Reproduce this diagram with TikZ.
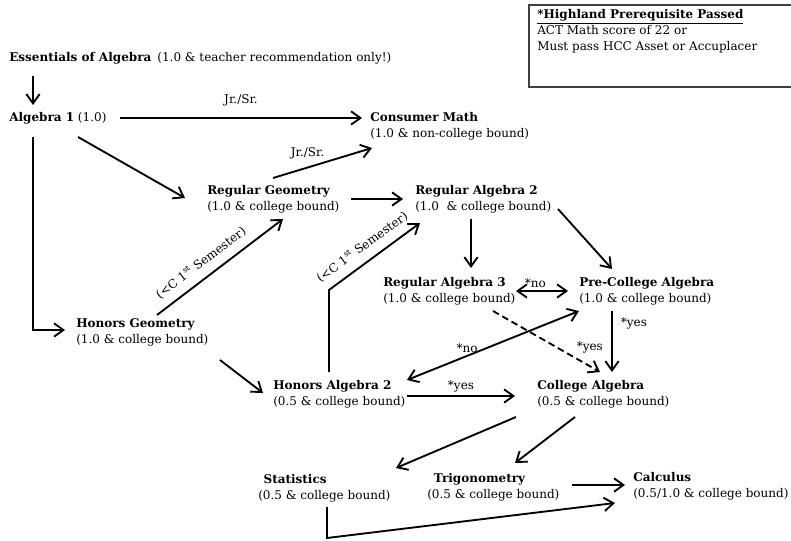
\documentclass[tikz,border=0pt]{standalone}
\usepackage{fontspec}
\setmainfont{DejaVu Serif}
\usetikzlibrary{arrows.meta,positioning}
\tikzset
{
    course/.style    = {anchor=west, align=left, inner sep=0pt, font=\fontsize{9}{12}\selectfont},
    edgelabel/.style = {font=\fontsize{9}{12}\selectfont, inner sep=2pt},
    link/.style      = {line width=1.4pt, -{Straight Barb[length=7pt,width=10pt]}},
    twolink/.style   = {line width=1.4pt, {Straight Barb[length=7pt,width=10pt]}-{Straight Barb[length=7pt,width=10pt]}},
    maybelink/.style = {link, dash pattern=on 5pt off 3pt}
}

\begin{document}
\begin{tikzpicture}[x=0.75pt, y=-0.75pt]
	\useasboundingbox (0,0) rectangle (791,541);
	% courses
	\node[course] (ess)  at (9,58)    {\textbf{Essentials of Algebra}\enspace(1.0 \& teacher recommendation only!)};
	\node[course] (alg1) at (9,118)   {\textbf{Algebra 1} (1.0)};
	\node[course] (cm)   at (370,126) {\textbf{Consumer Math}\\(1.0 \& non-college bound)};
	\node[course] (rg)   at (207,199) {\textbf{Regular Geometry}\\(1.0 \& college bound)};
	\node[course] (ra2)  at (415,199) {\textbf{Regular Algebra 2}\\(1.0~ \& college bound)};
	\node[course] (ra3)  at (383,291) {\textbf{Regular Algebra 3}\\(1.0 \& college bound)};
	\node[course] (pca)  at (579,291) {\textbf{Pre-College Algebra}\\(1.0 \& college bound)};
	\node[course] (hg)   at (76,332)  {\textbf{Honors Geometry}\\(1.0 \& college bound)};
	\node[course] (ha2)  at (273,394) {\textbf{Honors Algebra 2}\\(0.5 \& college bound)};
	\node[course] (ca)   at (537,394) {\textbf{College Algebra}\\(0.5 \& college bound)};
	\node[course] (stat) at (258,488) {\hspace*{4pt}\textbf{Statistics}\\(0.5 \& college bound)};
	\node[course] (trig) at (427,487) {\hspace*{5pt}\textbf{Trigonometry}\\(0.5 \& college bound)};
	\node[course] (calc) at (633,486) {\textbf{Calculus}\\(0.5/1.0 \& college bound)};

	% prerequisite note
	\node[course] (note) at (537,31) {\underline{\textbf{*Highland Prerequisite Passed}}\\ACT Math score of 22 or\\Must pass HCC Asset or Accuplacer};
	\draw[line width=0.8pt, black!75] ([shift={(-8,-26)}]note.west) rectangle ([shift={(262,56)}]note.west);

	% paths
	\draw[link] ([shift={(24,18)}]ess.west) -- ([shift={(24,-13)}]alg1.west);
	\draw[link] ([shift={(111,0)}]alg1.west) -- ([shift={(-8,-8)}]cm.west)
		node[edgelabel, midway, above=6pt] (jr1) {Jr./Sr.};
	\draw[link] ([shift={(24,19)}]alg1.west) |- ([shift={(-11,-2)}]hg.west);
	\draw[link] ([shift={(69,19)}]alg1.west) -- ([shift={(-22,-1)}]rg.west);
	\draw[link] ([shift={(66,-21)}]rg.west) -- ([shift={(2,22)}]cm.west)
		node[edgelabel, pos=0.35, above=4pt] (jr2) {Jr./Sr.};
	\draw[link] ([shift={(144,0)}]rg.west) -- ([shift={(-12,0)}]ra2.west);
	\draw[link] ([shift={(81,-17)}]hg.west) -- ([shift={(76,20)}]rg.west)
		node[edgelabel, pos=0.42, sloped, above=4pt] (sem1) {(<C 1\textsuperscript{st} Semester)};
	\draw[link] ([shift={(56,-22)}]ha2.west) -- ++(0,-82) -- ([shift={(5,24)}]ra2.west)
		node[edgelabel, pos=0.46, sloped, above=4pt] (sem2) {(<C 1\textsuperscript{st} Semester)};
	\draw[link] ([shift={(144,28)}]hg.west) -- ([shift={(-10,-1)}]ha2.west);
	\draw[link] ([shift={(56,20)}]ra2.west) -- ([shift={(88,-23)}]ra3.west);
	\draw[link] ([shift={(143,10)}]ra2.west) -- ([shift={(33,-22)}]pca.west);
	\draw[twolink] ([shift={(133,0)}]ra3.west) -- ([shift={(-11,0)}]pca.west)
		node[edgelabel, pos=0.37, above] (no1) {*no};
	\draw[link] ([shift={(33,20)}]pca.west) -- ([shift={(75,-22)}]ca.west)
		node[edgelabel, pos=0.2, right=4pt] (yes1) {*yes};
	\draw[maybelink] ([shift={(110,20)}]ra3.west) -- ([shift={(63,-22)}]ca.west)
		node[edgelabel, pos=0.75, above right] (yes2) {*yes};
	\draw[twolink] ([shift={(134,-14)}]ha2.west) -- ([shift={(0,20)}]pca.west)
		node[edgelabel, pos=0.35, above] (no2) {*no};
	\draw[link] ([shift={(134,2)}]ha2.west) -- ([shift={(-22,2)}]ca.west)
		node[edgelabel, midway, above] (yes3) {*yes};
	\draw[link] ([shift={(-21,23)}]ca.west) -- ([shift={(138,-20)}]stat.west);
	\draw[link] ([shift={(38,23)}]ca.west) -- ([shift={(88,-24)}]trig.west);
	\draw[link] ([shift={(145,-2)}]trig.west) -- ([shift={(-8,-1)}]calc.west);
	\draw[link] ([shift={(69,19)}]stat.west) -- ++(0,31) -- ([shift={(-18,17)}]calc.west);
\end{tikzpicture}
\end{document}
